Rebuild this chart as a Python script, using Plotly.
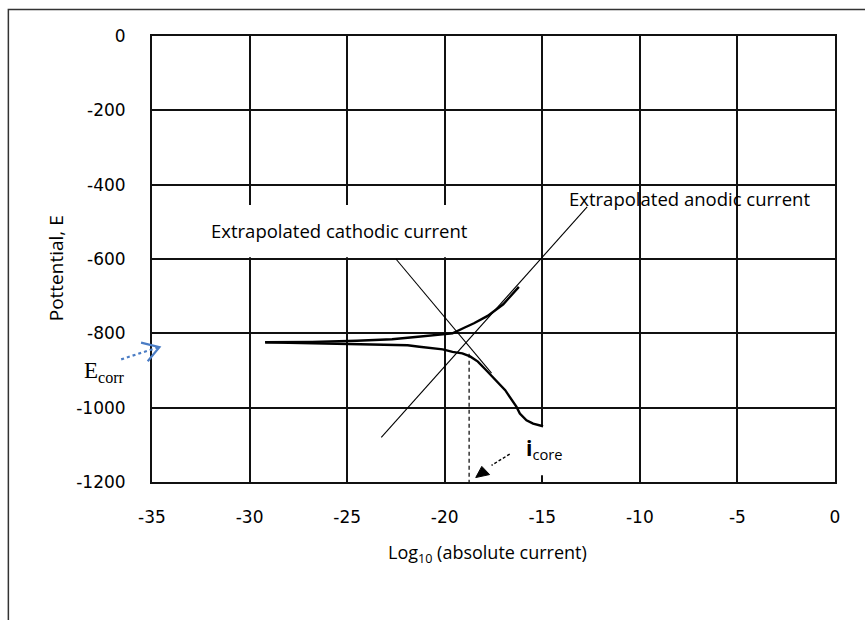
import plotly.graph_objects as go

# Axis ranges and tick labels
x_ticks = [-35, -30, -25, -20, -15, -10, -5, 0]
x_tick_text = ["-35", "-30", "-25", "-20", "-15", "-10", "-5", "0"]
y_ticks = [0, -200, -400, -600, -800, -1000, -1200]
y_tick_text = ["0", "-200", "-400", "-600", "-800", "-1000", "-1200"]
X_MIN, X_MAX = -35, 0
Y_MIN, Y_MAX = -1200, 0

# Measured polarisation curve: anodic branch (log10 |i|, E)
anodic_x = [-29.2, -26.8, -24.5, -22.7, -21.5, -20.6, -19.6, -19.0, -18.5, -17.8, -17.0, -16.2]
anodic_y = [-824, -823, -820, -816, -810, -805, -800, -785, -773, -753, -722, -675]

# Measured polarisation curve: cathodic branch
cathodic_x = [-29.2, -26.8, -24.5, -22.7, -21.9, -21.3, -20.7, -20.1, -19.6, -19.1,
              -18.7, -18.3, -17.86, -17.4, -16.9, -16.32, -16.15, -15.81, -15.47, -14.96]
cathodic_y = [-824, -826, -828, -830, -832, -836, -839, -843, -850, -854,
              -862, -876, -900, -925, -953, -998, -1016, -1034, -1043, -1050]

# Tafel extrapolations
anodic_tafel_x = [-23.25, -12.7]
anodic_tafel_y = [-1080, -460]
cathodic_tafel_x = [-22.5, -17.6]
cathodic_tafel_y = [-600, -907]

# Corrosion current (log10) read at the intersection
icorr_x = -18.75
icorr_top = -855


def px(x):
    return (x - X_MIN) / (X_MAX - X_MIN)


def py(y):
    return (y - Y_MIN) / (Y_MAX - Y_MIN)


fig = go.Figure()

line_thin = dict(color="black", width=1.1)
line_thick = dict(color="black", width=2.4)

fig.add_trace(go.Scatter(x=anodic_tafel_x, y=anodic_tafel_y, mode="lines", line=line_thin))
fig.add_trace(go.Scatter(x=cathodic_tafel_x, y=cathodic_tafel_y, mode="lines", line=line_thin))
fig.add_trace(go.Scatter(x=anodic_x, y=anodic_y, mode="lines", line=line_thick))
fig.add_trace(go.Scatter(x=cathodic_x, y=cathodic_y, mode="lines", line=line_thick))
fig.add_trace(go.Scatter(x=[icorr_x, icorr_x], y=[icorr_top, Y_MIN], mode="lines",
                         line=dict(color="black", width=1.2, dash="4px,3px")))

shapes = []
# white panels behind the labels (over gridlines, under traces)
shapes.append(dict(type="rect", xref="x", yref="y", x0=-32.8, x1=-18.2, y0=-595, y1=-455,
                   fillcolor="white", line=dict(width=0), layer="between"))
shapes.append(dict(type="rect", xref="x", yref="y", x0=-16.4, x1=-13.3, y0=-1182, y1=-1050,
                   fillcolor="white", line=dict(width=0), layer="between"))

# outer frame
shapes.append(dict(type="rect", xref="paper", yref="paper", x0=-0.2103, x1=1.2, y0=-0.5, y1=1.0595,
                   line=dict(color="#333333", width=1.5), fillcolor="rgba(0,0,0,0)", layer="above"))

# icorr arrow: dashed shaft and filled head
tail = (-16.67, -1125)
tip = (-18.41, -1188)
shapes.append(dict(type="line", xref="x", yref="y", x0=tail[0], y0=tail[1], x1=-17.6, y1=-1155,
                   line=dict(color="black", width=1.4, dash="3px,2px"), layer="above"))
shapes.append(dict(type="path", xref="x", yref="y",
                   path=f"M {tip[0]},{tip[1]} L -18.1,-1158 L -17.7,-1180 Z",
                   fillcolor="black", line=dict(color="black", width=1), layer="above"))

# Ecorr arrow: dotted blue shaft with an open head
blue = "#4a7cc4"
shapes.append(dict(type="line", xref="paper", yref="paper",
                   x0=px(-36.58), y0=py(-870), x1=px(-34.7), y1=py(-838),
                   line=dict(color=blue, width=2.2, dash="dot"), layer="above"))
shapes.append(dict(type="path", xref="paper", yref="paper",
                   path=(f"M {px(-35.56)},{py(-825)} L {px(-34.62)},{py(-837)} "
                         f"L {px(-35.22)},{py(-875)}"),
                   line=dict(color=blue, width=2.2), layer="above"))

label_font = dict(family="Open Sans", size=18.5, color="black")
annotations = [
    dict(x=-25.38, y=-524, xref="x", yref="y", text="Extrapolated cathodic current",
         xanchor="center", yanchor="middle", showarrow=False, font=label_font),
    dict(x=-7.44, y=-438, xref="x", yref="y", text="Extrapolated anodic current",
         xanchor="center", yanchor="middle", showarrow=False, font=label_font),
    dict(x=-14.9, y=-1112, xref="x", yref="y", text="<b>i</b><sub>core</sub>",
         xanchor="center", yanchor="middle", showarrow=False,
         font=dict(family="Open Sans", size=21, color="black")),
    dict(x=px(-37.44), y=py(-904), xref="paper", yref="paper", text="E<sub>corr</sub>",
         xanchor="center", yanchor="middle", showarrow=False,
         font=dict(family="Liberation Serif", size=23, color="black")),
    dict(x=-0.14, y=0.48, xref="paper", yref="paper", text="Pottential, E", textangle=-90,
         xanchor="center", yanchor="middle", showarrow=False,
         font=dict(family="Open Sans", size=19, color="black")),
    dict(x=0.4916, y=-0.16, xref="paper", yref="paper",
         text="Log<sub>10</sub> (absolute current)",
         xanchor="center", yanchor="middle", showarrow=False,
         font=dict(family="Open Sans", size=18, color="black")),
]

axis_common = dict(showgrid=True, gridcolor="#111111", gridwidth=1.7, zeroline=False,
                   showline=True, linecolor="#111111", linewidth=1.9, mirror=True,
                   ticks="", tickfont=dict(family="DejaVu Sans", size=17, color="black"))

fig.update_layout(
    width=865, height=620,
    margin=dict(l=152, r=30, t=36, b=138),
    paper_bgcolor="white", plot_bgcolor="white",
    showlegend=False,
    shapes=shapes,
    annotations=annotations,
    xaxis=dict(range=[X_MIN, X_MAX], tickvals=x_ticks, ticktext=x_tick_text,
               ticklabelstandoff=19, **axis_common),
    yaxis=dict(range=[Y_MIN, Y_MAX], tickvals=y_ticks, ticktext=y_tick_text,
               ticklabelstandoff=21, **axis_common),
)

fig.write_html("out.html")
